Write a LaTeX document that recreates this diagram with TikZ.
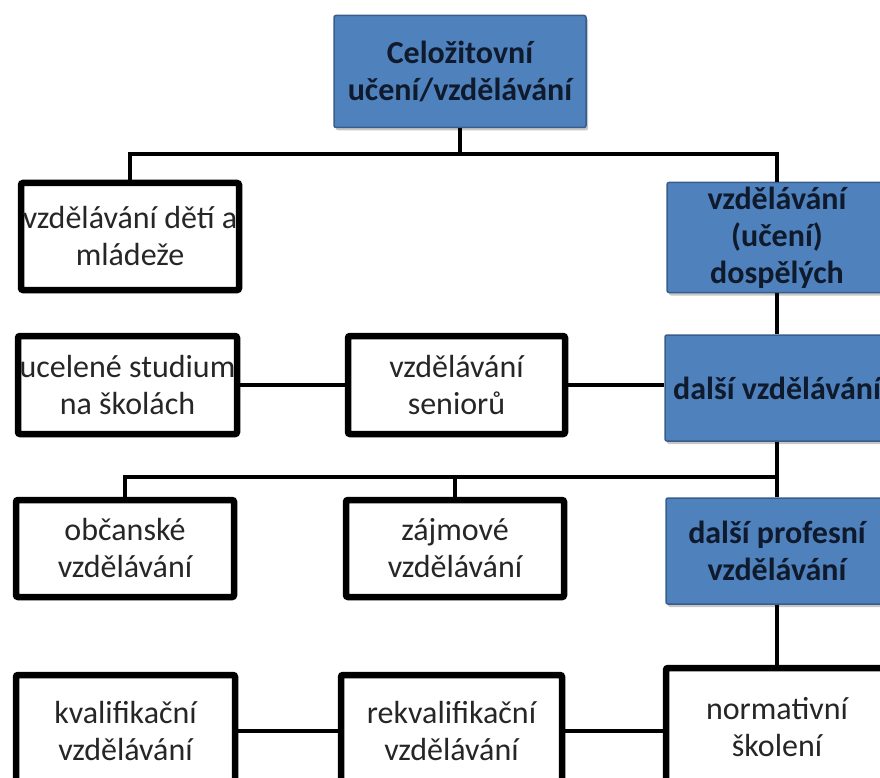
\documentclass[tikz,border=0pt]{standalone}
\usepackage{fontspec}
\setmainfont{Carlito}
\usetikzlibrary{shadows}

\definecolor{modra}{HTML}{4F81BD}
\definecolor{modraokraj}{HTML}{385D8A}
\definecolor{modrytext}{HTML}{0F1A2C}

\begin{document}
\begin{tikzpicture}[x=1pt, y=-1pt,
    box/.style={rounded corners=2pt, align=center, inner sep=0pt,
        drop shadow={shadow xshift=2pt, shadow yshift=-3pt, fill=black, opacity=0.22}},
    bilybox/.style={box, draw=black, line width=6.5pt, fill=white, text=black!85,
        font=\fontsize{32}{37}\selectfont},
    modrybox/.style={box, draw=modraokraj, line width=1.5pt, fill=modra, text=modrytext,
        font=\bfseries\fontsize{32}{37}\selectfont},
    spoj/.style={line width=3.8pt}]

    % Okraje obrazku
    \useasboundingbox (0,0) rectangle (880,778);
    \clip (0,0) rectangle (880,778);

    % Vrchol
    \node[modrybox, minimum width=252pt, minimum height=112pt] (cel) at (460,71.5) {Celožitovní\\učení/vzdělávání};

    % Prvni rada
    \node[bilybox, minimum width=218pt, minimum height=107pt] (deti) at (130,236.5) {vzdělávání dětí a\\mládeže};
    \node[modrybox, minimum width=220pt, minimum height=110pt] (dosp) at (777,237.5) {vzdělávání\\(učení)\\dospělých};

    % Druha rada
    \node[bilybox, minimum width=219pt, minimum height=98pt] (ucel) at (127.5,385) {ucelené studium\\na školách};
    \node[bilybox, minimum width=217pt, minimum height=98pt] (seni) at (456.5,385) {vzdělávání\\seniorů};
    \node[modrybox, minimum width=224pt, minimum height=106pt] (dalsi) at (777,388) {další vzdělávání};

    % Treti rada
    \node[bilybox, minimum width=218pt, minimum height=97pt] (obc) at (125,548.5) {občanské\\vzdělávání};
    \node[bilybox, minimum width=218pt, minimum height=97pt] (zaj) at (455,548.5) {zájmové\\vzdělávání};
    \node[modrybox, minimum width=222pt, minimum height=106pt] (prof) at (777,551) {další profesní\\vzdělávání};

    % Ctvrta rada
    \node[bilybox, minimum width=219pt, minimum height=112pt] (kval) at (125.5,731) {kvalifikační\\vzdělávání};
    \node[bilybox, minimum width=221pt, minimum height=112pt] (rekv) at (451.5,731) {rekvalifikační\\vzdělávání};
    \node[bilybox, minimum width=222pt, minimum height=118pt] (norm) at (777,727) {normativní\\školení};

    % Spojnice shora
    \draw[spoj] (cel.south) -- ++(0,26) coordinate (rozc1);
    \draw[spoj] (deti.north) |- (rozc1) -| (dosp.north);
    \draw[spoj] (dosp.south) -- (dalsi.north);

    % Spojnice v druhe rade
    \draw[spoj] (ucel.east) -- (seni.west);
    \draw[spoj] (seni.east) -- (seni.east -| dalsi.west);

    % Rozvetveni pod dalsim vzdelavanim
    \path (dalsi.south) ++(0,35) coordinate (rozc2);
    \draw[spoj] (dalsi.south) -- (prof.north);
    \draw[spoj] (obc.north) |- (rozc2);
    \draw[spoj] (zaj.north) -- (zaj.north |- rozc2);

    % Spodni rada
    \draw[spoj] (prof.south) -- (norm.north);
    \draw[spoj] (kval.east) -- (rekv.west);
    \draw[spoj] (rekv.east) -- (rekv.east -| norm.west);

\end{tikzpicture}
\end{document}
